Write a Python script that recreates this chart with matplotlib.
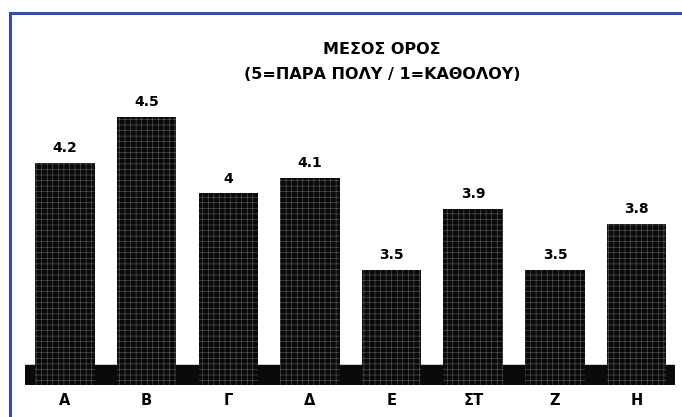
import matplotlib
matplotlib.use("Agg")
import matplotlib.pyplot as plt
from matplotlib.patches import Rectangle

# data
categories = ["Α", "Β", "Γ", "Δ", "Ε", "ΣΤ", "Ζ", "Η"]
values = [4.2, 4.5, 4.0, 4.1, 3.5, 3.9, 3.5, 3.8]
value_labels = ["4.2", "4.5", "4", "4.1", "3.5", "3.9", "3.5", "3.8"]
title = "ΜΕΣΟΣ ΟΡΟΣ\n(5=ΠΑΡΑ ΠΟΛΥ / 1=ΚΑΘΟΛΟΥ)"

plt.rcParams['hatch.linewidth'] = 0.4
plt.rcParams['font.family'] = ['DejaVu Sans']

fig = plt.figure(figsize=(6.82, 4.17), dpi=100)
fig.patch.set_facecolor("white")

# blue frame round the chart
fig.patches.append(Rectangle((10/682, -0.05), 1.0, 1 - 13/417 + 0.05,
                             transform=fig.transFigure, fill=False,
                             edgecolor="#3a4aa8", linewidth=2.2))

ax = fig.add_axes([25/682, 32/417, 650/682, 365/417])
x = list(range(len(categories)))
bars = ax.bar(x, values, width=0.73, bottom=0, color="#0a0a0a",
              edgecolor="#5e5e5e", hatch="+++", linewidth=0)

# dark floor band
ax.axhspan(2.75, 2.88, xmin=0.0, xmax=1.0, color="#0a0a0a", zorder=0)

for xi, v, lab in zip(x, values, value_labels):
    ax.text(xi, v + 0.05, lab, ha="center", va="bottom",
            fontsize=10, fontweight="bold", color="black")

ax.set_xlim(-0.49, 7.47)
ax.set_ylim(2.75, 5.13)
ax.set_xticks(x)
ax.set_xticklabels(categories, fontsize=10.5, fontweight="bold")
ax.tick_params(axis="x", length=0, pad=6)
ax.set_yticks([])
for s in ax.spines.values():
    s.set_visible(False)

fig.text(382/682, 1 - 62/417, title, ha="center", va="center",
         fontsize=11.5, fontweight="bold", linespacing=1.8)

fig.savefig("out.png", dpi=100)
